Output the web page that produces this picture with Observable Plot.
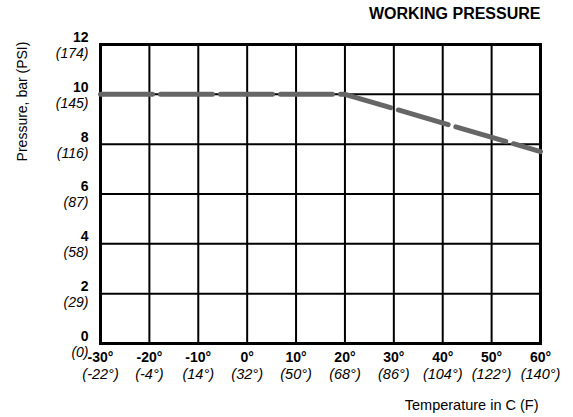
<!DOCTYPE html>
<html>
<head>
<meta charset="utf-8">
<script src="https://cdn.jsdelivr.net/npm/d3@7"></script>
<script src="https://cdn.jsdelivr.net/npm/@observablehq/plot@0.6"></script>
<style>
body { margin: 0; background: #fff; }
</style>
</head>
<body>
<div id="chart"></div>
<script>
const tempC = [-30, -20, -10, 0, 10, 20, 30, 40, 50, 60];
const tempF = ["(-22°)", "(-4°)", "(14°)", "(32°)", "(50°)", "(68°)", "(86°)", "(104°)", "(122°)", "(140°)"];
const barTicks = [0, 2, 4, 6, 8, 10, 12];
const psiLabels = ["(0)", "(29)", "(58)", "(87)", "(116)", "(145)", "(174)"];
const curveT = [-30, 20, 60];
const curveP = [10, 10, 7.7];

const curve = curveT.map((t, i) => ({t, p: curveP[i]}));
const xt = tempC.map((c, i) => ({c, f: tempF[i]}));
const yt = barTicks.map((b, i) => ({b, psi: psiLabels[i]}));
const font = "Liberation Sans, Arial, sans-serif";

const chart = Plot.plot({
  width: 573,
  height: 417,
  marginLeft: 100,
  marginRight: 33,
  marginTop: 44,
  marginBottom: 74,
  style: {fontFamily: font, background: "#fff"},
  x: {domain: [-30, 60], axis: null},
  y: {domain: [0, 12], axis: null},
  marks: [
    Plot.ruleX(tempC, {stroke: "#000", strokeWidth: 2}),
    Plot.ruleY(barTicks, {stroke: "#000", strokeWidth: 2}),
    Plot.frame({stroke: "#000", strokeWidth: 3}),
    Plot.line(curve, {x: "t", y: "p", stroke: "#666", strokeWidth: 5, strokeDasharray: "52,8"}),
    Plot.text(yt, {x: -30, y: "b", text: d => String(d.b), textAnchor: "end", dx: -12, dy: -7, fontWeight: "bold", fontSize: 14, fill: "#000"}),
    Plot.text(yt, {x: -30, y: "b", text: "psi", textAnchor: "end", dx: -12, dy: 9, fontStyle: "italic", fontSize: 14, fill: "#000"}),
    Plot.text(xt, {x: "c", y: 0, text: d => d.c + "°", dy: 14, fontWeight: "bold", fontSize: 14, fill: "#000"}),
    Plot.text(xt, {x: "c", y: 0, text: "f", dy: 30.5, fontStyle: "italic", fontSize: 14.5, fill: "#000"}),
    Plot.text(["WORKING PRESSURE"], {frameAnchor: "top-right", lineAnchor: "middle", dy: -31, fontWeight: "bold", fontSize: 16, fill: "#000"}),
    Plot.text(["Temperature in C (F)"], {frameAnchor: "bottom-right", lineAnchor: "middle", dy: 62, dx: -2, fontSize: 14.5, fill: "#000"}),
    Plot.text(["Pressure, bar (PSI)"], {frameAnchor: "top-left", textAnchor: "middle", lineAnchor: "middle", rotate: -90, dx: -78, dy: 57, fontSize: 14, fill: "#000"})
  ]
});
document.getElementById("chart").appendChild(chart);
</script>
</body>
</html>
